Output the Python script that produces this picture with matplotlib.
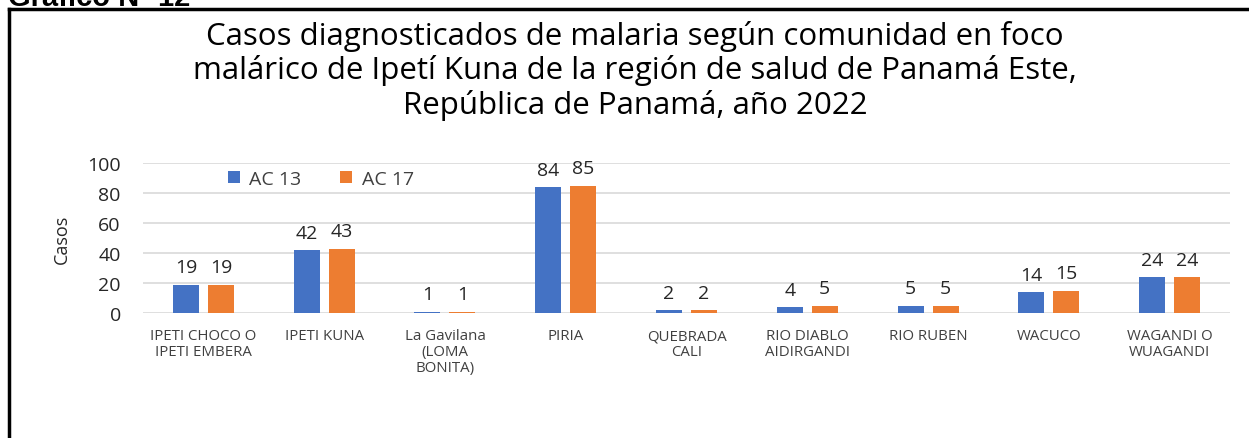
import numpy as np
import matplotlib.pyplot as plt
from matplotlib.lines import Line2D

# datos del grafico
comunidades = ["IPETI CHOCO O\nIPETI EMBERA", "IPETI KUNA", "La Gavilana\n(LOMA\nBONITA)",
               "PIRIA", "QUEBRADA\nCALI", "RIO DIABLO\nAIDIRGANDI", "RIO RUBEN",
               "WACUCO", "WAGANDI O\nWUAGANDI"]
ac13 = [19, 42, 1, 84, 2, 4, 5, 14, 24]
ac17 = [19, 43, 1, 85, 2, 5, 5, 15, 24]
yticks = [0, 20, 40, 60, 80, 100]

plt.rcParams['font.family'] = ['Open Sans', 'DejaVu Sans']

W, H = 1249, 439
fig = plt.figure(figsize=(W / 100, H / 100), dpi=100)

# marco negro
fig.add_artist(Line2D([9 / W, 9 / W], [0, 1 - 10 / H], color="black", lw=2.5, transform=fig.transFigure))
fig.add_artist(Line2D([9 / W, 1], [1 - 10 / H, 1 - 10 / H], color="black", lw=2.5, transform=fig.transFigure))

# encabezado cortado (como en el original)
fig.text(8 / W, 1 - 6 / H, "Gráfico Nº 12", fontsize=21, fontweight="bold", ha="left", va="baseline",
         family="Liberation Sans")

fig.text(635 / W, 1 - 71 / H,
         "Casos diagnosticados de malaria según comunidad en foco\n"
         "malárico de Ipetí Kuna de la región de salud de Panamá Este,\n"
         "República de Panamá, año 2022",
         ha="center", va="center", fontsize=22.5, linespacing=1.16, color="black")

ax = fig.add_axes([143 / W, 1 - 314 / H, (1230 - 143) / W, 150 / H])

x = np.arange(len(comunidades))
w = 0.215
off = 0.145
b1 = ax.bar(x - off, ac13, w, color="#4472C4", label="AC 13", zorder=3)
b2 = ax.bar(x + off, ac17, w, color="#ED7D31", label="AC 17", zorder=3)

for bars, vals in ((b1, ac13), (b2, ac17)):
    for r, v in zip(bars, vals):
        ax.annotate(str(v), (r.get_x() + r.get_width() / 2, v), xytext=(0, 6),
                    textcoords="offset points", ha="center", va="bottom",
                    fontsize=14, color="#262626")

ax.set_xlim(-0.5, len(comunidades) - 0.5)
ax.set_ylim(0, 100)
ax.set_yticks(yticks)
ax.tick_params(axis="y", length=0, labelsize=14, labelcolor="#262626", pad=16)
ax.set_xticks(x)
ax.set_xticklabels(comunidades, fontsize=10.8, color="#404040", linespacing=1.1)
ax.tick_params(axis="x", length=0, pad=11)
ax.grid(axis="y", color="#D9D9D9", lw=1.2, zorder=0)
for s in ax.spines.values():
    s.set_visible(False)
ax.set_ylabel("Casos", fontsize=13, color="#262626", labelpad=12)

ax.legend(loc="upper left", bbox_to_anchor=(0.062, 1.07), ncol=2, frameon=False,
          fontsize=14, handlelength=0.6, handleheight=0.6, columnspacing=2.0,
          handletextpad=0.5, labelcolor="#404040")

fig.savefig("out.png", dpi=100)
